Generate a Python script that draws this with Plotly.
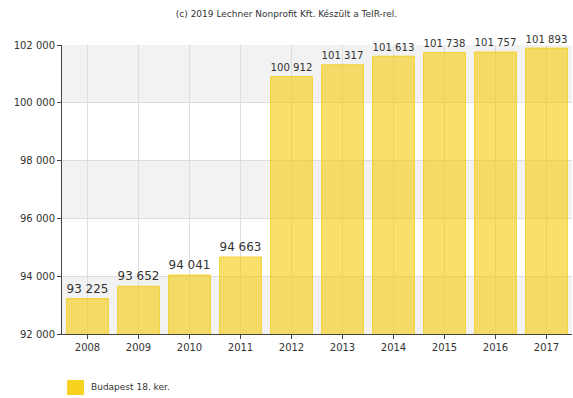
import plotly.graph_objects as go

years = ["2008", "2009", "2010", "2011", "2012", "2013", "2014", "2015", "2016", "2017"]
population = [93225, 93652, 94041, 94663, 100912, 101317, 101613, 101738, 101757, 101893]
series_name = "Budapest 18. ker."
y_ticks = [92000, 94000, 96000, 98000, 100000, 102000]
title_text = "(c) 2019 Lechner Nonprofit Kft. Készült a TeIR-rel."

bar_fill = "rgba(245,205,20,0.62)"
bar_edge = "rgba(242,200,10,0.75)"
swatch = "#F7D21E"

fig = go.Figure()
fig.add_trace(go.Bar(
    x=years,
    y=population,
    name=series_name,
    width=0.82,
    marker=dict(color=bar_fill, line=dict(color=bar_edge, width=1)),
    texttemplate="%{y:,d}",
    textposition="outside",
    cliponaxis=False,
    textfont=dict(family="DejaVu Sans", size=12, color="#333333"),
    showlegend=False,
))

# Alternating grey bands behind the bars
shapes = []
for i in range(0, len(y_ticks) - 1, 2):
    shapes.append(dict(type="rect", xref="paper", yref="y", x0=0, x1=1,
                       y0=y_ticks[i], y1=y_ticks[i + 1],
                       fillcolor="#F2F2F2", line=dict(width=0), layer="below"))

# Legend key below the plot
shapes.append(dict(type="rect", xref="paper", yref="paper",
                   x0=0.01, x1=0.043, y0=-0.211, y1=-0.159,
                   fillcolor=swatch, line=dict(width=0)))

fig.update_layout(
    width=573, height=398,
    margin=dict(l=62, r=1, t=45, b=64),
    paper_bgcolor="white", plot_bgcolor="white",
    separators=". ",
    font=dict(family="DejaVu Sans", size=10, color="#333333"),
    title=dict(text=title_text, x=0.5, xanchor="center", y=0.965, yanchor="middle",
               font=dict(family="DejaVu Sans", size=9, color="#333333")),
    shapes=shapes,
    annotations=[dict(text=series_name, xref="paper", yref="paper",
                      x=0.052, y=-0.185, xanchor="left", yanchor="middle",
                      showarrow=False,
                      font=dict(family="DejaVu Sans", size=9, color="#333333"))],
    xaxis=dict(type="category", showgrid=True, gridcolor="#DDDDDD", gridwidth=1,
               showline=True, linecolor="#444444", linewidth=1,
               ticks="outside", ticklen=4, tickcolor="#444444",
               tickfont=dict(size=10)),
    yaxis=dict(range=[92000, 102000], tickvals=y_ticks, tickformat=",d",
               showgrid=True, gridcolor="#DDDDDD", gridwidth=1,
               showline=True, linecolor="#444444", linewidth=1,
               ticks="outside", ticklen=4, tickcolor="#444444",
               tickfont=dict(size=10), zeroline=False),
)

fig.write_html("out.html")
